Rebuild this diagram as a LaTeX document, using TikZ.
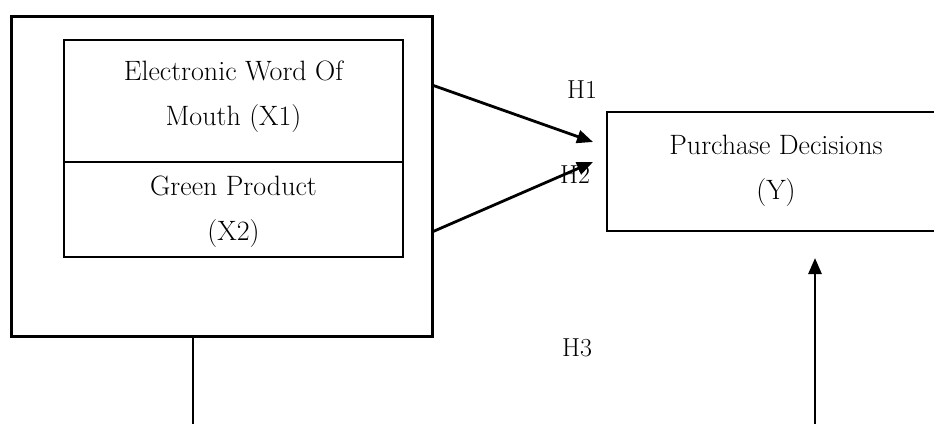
\documentclass[tikz,border=0pt]{standalone}
\usetikzlibrary{arrows.meta}
\begin{document}
\begin{tikzpicture}[x=1pt,y=-1pt,
  txt/.style={font=\fontsize{28}{45}\selectfont, align=center, inner sep=0pt},
  hlab/.style={font=\fontsize{26}{28}\selectfont, inner sep=0pt},
  thickbox/.style={draw, line width=3pt, inner sep=0pt},
  thinbox/.style={draw, line width=2.2pt, inner sep=0pt},
  arr/.style={line width=2.8pt, -{Triangle[length=16pt,width=13pt]}},
  plain/.style={line width=2.8pt}]
\useasboundingbox (0,0) rectangle (934,423);
\clip (0,0) rectangle (934,423);
% outer box
\node[thickbox, minimum width=421pt, minimum height=320pt] (outer) at (221.5,176) {};
% inner boxes
\node[thinbox, minimum width=339pt, minimum height=122pt] (x1box) at (233.5,101) {};
\node[thinbox, minimum width=339pt, minimum height=95pt] (x2box) at (233.5,209.5) {};
\node[txt] (x1) at (233.5,97) {Electronic Word Of\\Mouth (X1)};
\node[txt] (x2) at (233.5,212) {Green Product\\(X2)};
% right box (clipped at the right edge)
\node[thinbox, minimum width=393pt, minimum height=119pt] (ybox) at (803.5,171.5) {};
\node[txt] (y) at (776,171) {Purchase Decisions\\(Y)};
% labels
\node[hlab] (h1) at (582,90) {H1};
\node[hlab] (h2) at (575,175) {H2};
\node[hlab] (h3) at (577,348) {H3};
% connectors
\coordinate (s1) at (432,85);
\coordinate (t1) at (593,142);
\coordinate (s2) at (432,232);
\coordinate (t2) at (593,162);
\draw[arr] (s1) -- (t1);
\draw[arr] (s2) -- (t2);
\coordinate (b1) at (193,336);
\coordinate (b2) at (193,430);
\draw[plain] (b1) -- (b2);
\coordinate (u1) at (815,430);
\coordinate (u2) at (815,258);
\draw[arr] (u1) -- (u2);
\end{tikzpicture}
\end{document}
